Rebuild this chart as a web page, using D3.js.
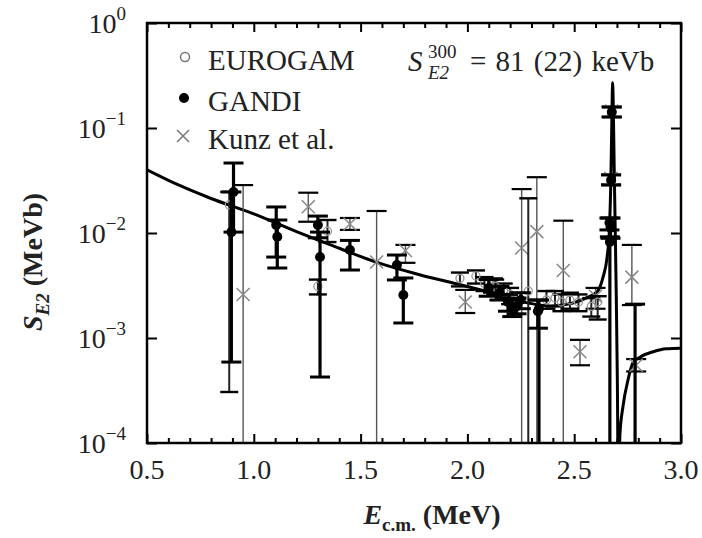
<!DOCTYPE html>
<html>
<head>
<meta charset="utf-8">
<script src="https://cdn.jsdelivr.net/npm/d3@7"></script>
<style>
    body { margin: 0; background: #fff; }
    svg text { font-family: "Liberation Serif", "DejaVu Serif", serif; fill: #222; }
</style>
</head>
<body>
<div id="draw_here"></div>
<script>
    // ---- values ----
    // R-matrix fit
    const curveE = [0.50, 0.65, 0.80, 1.00, 1.20, 1.40, 1.57, 1.78, 1.97, 2.15, 2.28, 2.39, 2.49, 2.56, 2.61, 2.635,
                    2.654, 2.665, 2.671, 2.675, 2.678, 2.680, 2.683, 2.687, 2.692, 2.697, 2.702, 2.706, 2.710,
                    2.714, 2.728, 2.752, 2.775, 2.81, 2.87, 2.93, 3.00]
    const curveS = [0.040, 0.0285, 0.0213, 0.0152, 0.0103, 0.00716, 0.0053, 0.00398, 0.0032, 0.00257, 0.00216, 0.00202,
                    0.00214, 0.00242, 0.0028, 0.0038, 0.0059, 0.011, 0.028, 0.08, 0.20, 0.27, 0.16, 0.045, 0.011,
                    0.0025, 0.0004, 0.00005, 0.00005, 0.00012, 0.00022, 0.00040, 0.00058, 0.00066, 0.00074, 0.00079, 0.00080]

    // GANDI (filled circles); lower limit 0 = bar runs off the bottom
    const gandiE  = [0.905, 0.895, 1.105, 1.11, 1.30, 1.31, 1.45, 1.67, 1.70, 2.10, 2.15, 2.19, 2.21, 2.23, 2.25, 2.33, 2.335, 2.667, 2.665, 2.670, 2.673, 2.676, 2.785]
    const gandiS  = [0.0246, 0.0102, 0.0119, 0.0092, 0.0119, 0.0059, 0.0069, 0.00496, 0.00257, 0.0030, 0.0027, 0.0022, 0.0019, 0.0020, 0.0023, 0.0018, 0.0019, 0.0082, 0.0125, 0.0112, 0.032, 0.142, 0.00006]
    const gandiLo = [0.0102, 0.00059, 0.0059, 0.00464, 0.0090, 0.000425, 0.00444, 0.00357, 0.00139, 0.0025, 0.0023, 0.0018, 0.0016, 0.0017, 0.0019, 0.00124, 0, 0, 0.0107, 0.0089, 0.0286, 0.127, 0]
    const gandiHi = [0.0464, 0.0246, 0.0177, 0.0133, 0.0145, 0.0102, 0.0085, 0.00617, 0.00373, 0.0036, 0.0031, 0.0026, 0.0023, 0.0024, 0.0027, 0.0023, 0.0023, 0.0092, 0.0139, 0.0139, 0.0357, 0.158, 0.0021]

    // EUROGAM (open circles)
    const euroE  = [0.885, 1.30, 1.345, 1.965, 2.04, 2.08, 2.13, 2.17, 2.20, 2.285, 2.37, 2.41, 2.44, 2.48, 2.52, 2.58, 2.61]
    const euroS  = [0.0185, 0.0031, 0.0104, 0.0037, 0.0039, 0.0033, 0.0031, 0.0028, 0.0026, 0.0028, 0.0023, 0.0024, 0.0022, 0.0023, 0.0022, 0.0020, 0.0022]
    const euroLo = [0.000306, 0.0026, 0.0082, 0.0031, 0.0033, 0.0028, 0.0026, 0.0024, 0.0021, 0, 0.0019, 0.0020, 0.0018, 0.0019, 0.0018, 0.0016, 0.0015]
    const euroHi = [0.0246, 0.0036, 0.0133, 0.0042, 0.0044, 0.0038, 0.0036, 0.0033, 0.0030, 0.0214, 0.0028, 0.0028, 0.0026, 0.0027, 0.0026, 0.0024, 0.0025]

    // Kunz et al. (crosses)
    const kunzE  = [0.95, 1.255, 1.45, 1.575, 1.71, 1.99, 2.12, 2.254, 2.325, 2.449, 2.527, 2.60, 2.672, 2.675, 2.77, 2.79]
    const kunzS  = [0.0026, 0.0178, 0.0122, 0.0053, 0.0068, 0.0022, 0.0032, 0.0072, 0.0103, 0.0044, 0.00074, 0.0025, 0.033, 0.145, 0.0038, 0.00055]
    const kunzLo = [0, 0.0128, 0.0107, 0, 0.0052, 0.00173, 0.0027, 0, 0, 0, 0.00055, 0.0019, 0.029, 0.128, 0.00206, 0.00048]
    const kunzHi = [0.0286, 0.0242, 0.0139, 0.0162, 0.0077, 0.00287, 0.0037, 0.0262, 0.034, 0.0131, 0.00096, 0.0030, 0.036, 0.16, 0.0077, 0.00063]

    const xTicks = [0.5, 1.0, 1.5, 2.0, 2.5, 3.0]
    const xTickLabels = ["0.5", "1.0", "1.5", "2.0", "2.5", "3.0"]
    const xMinor = [0.6, 0.7, 0.8, 0.9, 1.1, 1.2, 1.3, 1.4, 1.6, 1.7, 1.8, 1.9, 2.1, 2.2, 2.3, 2.4, 2.6, 2.7, 2.8, 2.9]
    const yTicks = [1, 1e-1, 1e-2, 1e-3, 1e-4]
    const yTickExp = ["0", "\u22121", "\u22122", "\u22123", "\u22124"]
    const legendLabels = ["EUROGAM", "GANDI", "Kunz et al."]

    // ---- chart ----
    canvas = ({width: 702, height: 538})
    margin = ({top: 23, right: 21, bottom: 95, left: 147})
    const x0 = margin.left, x1 = canvas.width - margin.right
    const y0 = margin.top, y1 = canvas.height - margin.bottom

    x = d3.scaleLinear().domain([0.5, 3.0]).range([x0, x1])
    y = d3.scaleLog().domain([1e-4, 1]).range([y1, y0])

    var svg = d3.select("div#draw_here").append("svg")
        .attr("width", canvas.width)
        .attr("height", canvas.height)

    svg.append("clipPath").attr("id", "clip")
        .append("rect").attr("x", x0).attr("y", y0).attr("width", x1 - x0).attr("height", y1 - y0)

    const plot = svg.append("g").attr("clip-path", "url(#clip)")

    // fit curve
    line = d3.line()
        .curve(d3.curveMonotoneX)
        .x(d => x(d[0]))
        .y(d => y(d[1]))

    plot.append("path")
        .attr("fill", "none")
        .attr("stroke", "#000")
        .attr("stroke-width", 3)
        .attr("stroke-linejoin", "round")
        .attr("d", line(d3.zip(curveE, curveS)))

    const yLow = v => v > 0 ? y(v) : y1 + 10

    function errorBars(E, S, Lo, Hi, st) {
        const rows = d3.range(E.length).map(i => ({e: E[i], s: S[i], lo: Lo[i], hi: Hi[i]}))
        const g = plot.append("g")
        g.selectAll(".bar").data(rows).join("line")
            .attr("x1", d => x(d.e)).attr("x2", d => x(d.e))
            .attr("y1", d => yLow(d.lo)).attr("y2", d => y(d.hi))
            .attr("stroke", st.bar).attr("stroke-width", st.barWidth)
        g.selectAll(".capHi").data(rows).join("line")
            .attr("x1", d => x(d.e) - st.cap).attr("x2", d => x(d.e) + st.cap)
            .attr("y1", d => y(d.hi)).attr("y2", d => y(d.hi))
            .attr("stroke", "#000").attr("stroke-width", st.capWidth)
        g.selectAll(".capLo").data(rows.filter(d => d.lo > 0)).join("line")
            .attr("x1", d => x(d.e) - st.cap).attr("x2", d => x(d.e) + st.cap)
            .attr("y1", d => y(d.lo)).attr("y2", d => y(d.lo))
            .attr("stroke", "#000").attr("stroke-width", st.capWidth)
        return {g: g, rows: rows}
    }

    // Kunz
    const kz = errorBars(kunzE, kunzS, kunzLo, kunzHi, {bar: "#555", barWidth: 1.4, cap: 10, capWidth: 2.2})
    kz.g.selectAll(".cross").data(kz.rows).join("path")
        .attr("d", d => `M${x(d.e)-6.5},${y(d.s)-6.5}L${x(d.e)+6.5},${y(d.s)+6.5}M${x(d.e)-6.5},${y(d.s)+6.5}L${x(d.e)+6.5},${y(d.s)-6.5}`)
        .attr("stroke", "#888").attr("stroke-width", 1.5).attr("fill", "none")

    // EUROGAM
    const eu = errorBars(euroE, euroS, euroLo, euroHi, {bar: "#222", barWidth: 2, cap: 9, capWidth: 2.4})
    eu.g.selectAll(".circ").data(eu.rows).join("circle")
        .attr("cx", d => x(d.e)).attr("cy", d => y(d.s)).attr("r", 4)
        .attr("fill", "none").attr("stroke", "#999").attr("stroke-width", 1.3)

    // GANDI
    const ga = errorBars(gandiE, gandiS, gandiLo, gandiHi, {bar: "#000", barWidth: 3.2, cap: 10, capWidth: 3})
    ga.g.selectAll(".dot").data(ga.rows).join("circle")
        .attr("cx", d => x(d.e)).attr("cy", d => y(d.s)).attr("r", 5)
        .attr("fill", "#000")

    // ---- axes: inward ticks on all four sides ----
    const tickStyle = g => g.call(g => g.select(".domain").remove())
        .call(g => g.selectAll(".tick line").attr("stroke", "#000").attr("stroke-width", 2))

    svg.append("g").attr("transform", `translate(0,${y1})`)
        .call(d3.axisBottom(x).tickValues(xMinor).tickSize(-5).tickFormat("")).call(tickStyle)
    svg.append("g").attr("transform", `translate(0,${y1})`)
        .call(d3.axisBottom(x).tickValues(xTicks).tickSize(-9).tickFormat("")).call(tickStyle)
    svg.append("g").attr("transform", `translate(0,${y0})`)
        .call(d3.axisTop(x).tickValues(xMinor).tickSize(-5).tickFormat("")).call(tickStyle)
    svg.append("g").attr("transform", `translate(0,${y0})`)
        .call(d3.axisTop(x).tickValues(xTicks).tickSize(-9).tickFormat("")).call(tickStyle)
    svg.append("g").attr("transform", `translate(${x0},0)`)
        .call(d3.axisLeft(y).tickValues(yTicks).tickSize(-10).tickFormat("")).call(tickStyle)
    svg.append("g").attr("transform", `translate(${x1},0)`)
        .call(d3.axisRight(y).tickValues(yTicks).tickSize(-10).tickFormat("")).call(tickStyle)

    svg.append("rect")
        .attr("x", x0).attr("y", y0).attr("width", x1 - x0).attr("height", y1 - y0)
        .attr("fill", "none").attr("stroke", "#000").attr("stroke-width", 2.5)

    // tick labels
    svg.append("g").selectAll("text").data(xTicks).join("text")
        .attr("x", d => x(d)).attr("y", y1 + 36)
        .attr("text-anchor", "middle").attr("font-size", 28)
        .text((d, i) => xTickLabels[i])

    const yl = svg.append("g").selectAll("text").data(yTicks).join("text")
        .attr("x", x0 - 21).attr("y", d => y(d) + 10)
        .attr("text-anchor", "end").attr("font-size", 28)
    yl.append("tspan").text("10")
    yl.append("tspan").attr("dy", -13).attr("font-size", 19).text((d, i) => yTickExp[i])

    // axis titles
    const xt = svg.append("text")
        .attr("x", 432).attr("y", 524).attr("text-anchor", "middle")
        .attr("font-size", 28).attr("font-weight", "bold")
    xt.append("tspan").attr("font-style", "italic").text("E")
    xt.append("tspan").attr("font-size", 19).attr("dy", 7).text("c.m.")
    xt.append("tspan").attr("dy", -7).text(" (MeV)")

    const ytt = svg.append("text")
        .attr("transform", "translate(42,262) rotate(-90)").attr("text-anchor", "middle")
        .attr("font-size", 28).attr("font-weight", "bold")
    ytt.append("tspan").attr("font-style", "italic").text("S")
    ytt.append("tspan").attr("font-style", "italic").attr("font-size", 19).attr("dy", 7).text("E2")
    ytt.append("tspan").attr("dy", -7).text(" (MeVb)")

    // legend
    const leg = svg.append("g")
    const legY = [57, 98, 136]
    leg.append("circle").attr("cx", 185).attr("cy", legY[0]).attr("r", 4.5)
        .attr("fill", "#fff").attr("stroke", "#777").attr("stroke-width", 1.5)
    leg.append("circle").attr("cx", 184).attr("cy", legY[1]).attr("r", 5).attr("fill", "#000")
    leg.append("path")
        .attr("d", `M177,${legY[2]-6}L189,${legY[2]+6}M177,${legY[2]+6}L189,${legY[2]-6}`)
        .attr("stroke", "#777").attr("stroke-width", 1.5)
    leg.selectAll("text").data(legendLabels).join("text")
        .attr("x", 208).attr("y", (d, i) => legY[i] + 13)
        .attr("font-size", 29).text(d => d)

    // annotation S_E2^300 = 81 (22) keVb
    svg.append("text").attr("x", 408).attr("y", 71).attr("font-size", 29).attr("font-style", "italic").text("S")
    svg.append("text").attr("x", 428).attr("y", 58).attr("font-size", 19).text("300")
    svg.append("text").attr("x", 428).attr("y", 79).attr("font-size", 19).attr("font-style", "italic").text("E2")
    svg.append("text").attr("x", 470).attr("y", 71).attr("font-size", 29).attr("word-spacing", 2).text("= 81 (22) keVb")
</script>
</body>
</html>
